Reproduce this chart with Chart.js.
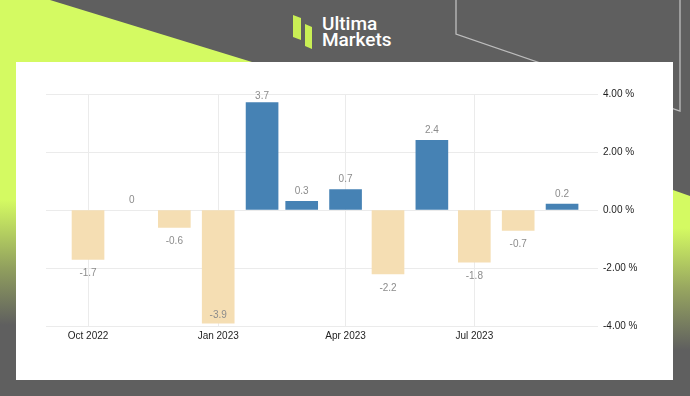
<!DOCTYPE html>
<html>
<head>
<meta charset="utf-8">
<script src="https://cdn.jsdelivr.net/npm/chart.js@4/dist/chart.umd.min.js"></script>
<style>
  html, body { margin: 0; padding: 0; }
  body { width: 690px; height: 396px; overflow: hidden; position: relative; background: #5f5f5f; font-family: Roboto, "Liberation Sans", sans-serif; }
  .lime-left { position: absolute; left: 0; top: 0; width: 690px; height: 396px;
    clip-path: polygon(0 0, 50px 0, 252px 62px, 252px 396px, 0 396px);
    background: linear-gradient(to bottom, #d4fa62 0, #d4fa62 200px, #8f9d5e 270px, #5f5f5f 325px); }
  .lime-right { position: absolute; left: 673px; top: 0; width: 17px; height: 396px;
    clip-path: polygon(0 190px, 17px 196px, 17px 396px, 0 396px);
    background: linear-gradient(to bottom, #d4fa62 190px, #d4fa62 228px, #96a460 290px, #5f5f5f 350px); }
  .lines { position: absolute; left: 0; top: 0; }
  .panel { position: absolute; left: 16px; top: 62px; width: 657px; height: 318px; background: #fff; }
  .panel canvas { position: absolute; left: 0; top: 0; }
  .logo-text { position: absolute; left: 322px; color: #fff; font-size: 19px; font-weight: 500; line-height: 19px; letter-spacing: 0; }
</style>
</head>
<body>
<div class="lime-left"></div>
<div class="lime-right"></div>
<svg class="lines" width="690" height="396">
  <polyline points="456,0 456,34 680,111 680,0" fill="none" stroke="#bdbdbd" stroke-width="1.3"/>
  <polygon points="293,15 301,18 301,40 293,37" fill="#c9ef55"/>
  <polygon points="305,24 312,27 312,49 305,46" fill="#c9ef55"/>
</svg>
<div class="logo-text" style="top:14px">Ultima</div>
<div class="logo-text" style="top:30px">Markets</div>
<div class="panel"><canvas id="chart" width="657" height="318"></canvas></div>
<script>
const months = ['2022-10-01', '2022-11-01', '2022-12-01', '2023-01-01', '2023-02-01', '2023-03-01',
  '2023-04-01', '2023-05-01', '2023-06-01', '2023-07-01', '2023-08-01', '2023-09-01'];
const values = [-1.7, 0, -0.6, -3.9, 3.7, 0.3, 0.7, -2.2, 2.4, -1.8, -0.7, 0.2];
const tickDates = ['2022-10-01', '2023-01-01', '2023-04-01', '2023-07-01'];
const tickLabels = ['Oct 2022', 'Jan 2023', 'Apr 2023', 'Jul 2023'];
const yMin = -4;
const yMax = 4;
const yStep = 2;

const upColor = '#4682b4';
const downColor = '#f5deb3';

function dayNum(s) {
  return Date.parse(s + 'T00:00:00Z') / 86400000;
}

function barColor(v) {
  if (v === 0) return 'rgba(0,0,0,0)';
  return v < 0 ? downColor : upColor;
}

const valueLabels = {
  id: 'valueLabels',
  afterDatasetsDraw(chart) {
    const ctx = chart.ctx;
    const area = chart.chartArea;
    const meta = chart.getDatasetMeta(0);
    ctx.save();
    ctx.font = '10px "Liberation Sans", Arial, sans-serif';
    ctx.fillStyle = '#8c8c8c';
    ctx.textAlign = 'center';
    ctx.textBaseline = 'middle';
    meta.data.forEach((bar, i) => {
      const v = values[i];
      let y;
      if (v >= 0) y = Math.max(bar.y - 10, area.top + 2);
      else y = Math.min(bar.y + 14, area.bottom - 11);
      ctx.fillText(String(v), bar.x, y);
    });
    ctx.restore();
  }
};

new Chart(document.getElementById('chart'), {
  type: 'bar',
  data: {
    datasets: [{
      data: months.map((m, i) => ({ x: dayNum(m), y: values[i] })),
      backgroundColor: values.map(barColor),
      borderWidth: 0,
      barThickness: 32
    }]
  },
  options: {
    responsive: false,
    animation: false,
    devicePixelRatio: 1,
    layout: { padding: { left: 30, top: 32, right: 0, bottom: 0 } },
    plugins: { legend: { display: false }, tooltip: { enabled: false } },
    scales: {
      x: {
        type: 'linear',
        bounds: 'data',
        offset: false,
        min: dayNum(months[0]) - 29.7,
        max: dayNum(months[months.length - 1]) + 25.4,
        grid: { offset: false, color: '#ebebeb', drawTicks: false },
        border: { display: false },
        afterBuildTicks: scale => { scale.ticks = tickDates.map(d => ({ value: dayNum(d) })); },
        afterFit: scale => { scale.height = 54; },
        ticks: {
          autoSkip: false,
          maxRotation: 0,
          padding: 4,
          color: '#1e1e1e',
          font: { family: '"Liberation Sans", Arial, sans-serif', size: 10 },
          callback: (v, i) => tickLabels[i]
        }
      },
      y: {
        position: 'right',
        min: yMin,
        max: yMax,
        grid: { color: '#ebebeb', drawTicks: false },
        border: { display: false },
        afterFit: scale => { scale.width = 75; },
        ticks: {
          stepSize: yStep,
          padding: 5,
          color: '#1e1e1e',
          font: { family: '"Liberation Sans", Arial, sans-serif', size: 10 },
          callback: v => v.toFixed(2) + ' %'
        }
      }
    }
  },
  plugins: [valueLabels]
});
</script>
</body>
</html>
